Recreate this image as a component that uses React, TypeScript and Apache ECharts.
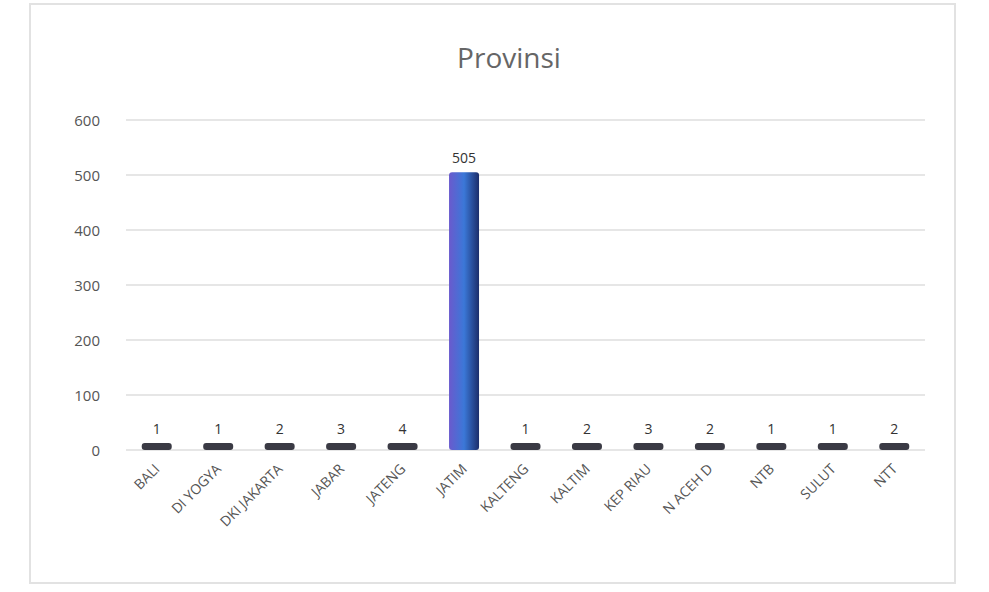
import React, { useEffect, useRef } from "react";
import * as echarts from "echarts";

const categories = [
  "BALI",
  "DI YOGYA",
  "DKI JAKARTA",
  "JABAR",
  "JATENG",
  "JATIM",
  "KALTENG",
  "KALTIM",
  "KEP RIAU",
  "N ACEH D",
  "NTB",
  "SULUT",
  "NTT",
];
const values = [1, 1, 2, 3, 4, 505, 1, 2, 3, 2, 1, 1, 2];
const yTicks = { min: 0, max: 600, interval: 100 };
const titleText = "Provinsi";

export default function App() {
  const ref = useRef<HTMLDivElement>(null);
  useEffect(() => {
    if (!ref.current) return;
    const chart = echarts.init(ref.current, undefined, { renderer: "svg" });
    const bigGradient = new echarts.graphic.LinearGradient(0, 0, 1, 0, [
      { offset: 0, color: "#6a5acd" },
      { offset: 0.5, color: "#3b78d8" },
      { offset: 1, color: "#1c2e6b" },
    ]);
    chart.setOption({
      animation: false,
      backgroundColor: "#ffffff",
      title: {
        text: titleText,
        left: 504,
        top: 38,
        textAlign: "center",
        textStyle: {
          fontFamily: "Open Sans",
          fontSize: 28,
          fontWeight: "normal",
          color: "#666",
        },
      },
      graphic: [
        {
          type: "rect",
          shape: { x: 30, y: 4, width: 925, height: 579 },
          style: { fill: "none", stroke: "#e2e2e2", lineWidth: 2 },
          silent: true,
        },
      ],
      grid: { left: 126, right: 64, top: 120, bottom: 142 },
      xAxis: {
        type: "category",
        data: categories,
        axisLine: { show: false },
        axisTick: { show: false },
        axisLabel: {
          rotate: 45,
          interval: 0,
          fontFamily: "Open Sans",
          fontSize: 14,
          color: "#555",
          margin: 16,
        },
      },
      yAxis: {
        type: "value",
        min: yTicks.min,
        max: yTicks.max,
        interval: yTicks.interval,
        axisLine: { show: false },
        axisTick: { show: false },
        axisLabel: {
          fontFamily: "Open Sans",
          fontSize: 15,
          color: "#555",
          margin: 26,
        },
        splitLine: { lineStyle: { color: "#e6e6e6", width: 2 } },
      },
      series: [
        {
          type: "bar",
          data: values.map((v) => ({
            value: v,
            itemStyle: { color: v > 100 ? bigGradient : "#3a3a44" },
          })),
          barWidth: 30,
          barMinHeight: 7,
          itemStyle: { borderRadius: 3 },
          label: {
            show: true,
            position: "top",
            distance: 8,
            fontFamily: "Open Sans",
            fontSize: 14,
            color: "#333",
          },
        },
      ],
    });
    return () => chart.dispose();
  }, []);
  return (
    <div
      ref={ref}
      style={{ position: "fixed", left: 0, top: 0, width: 989, height: 592 }}
    />
  );
}
